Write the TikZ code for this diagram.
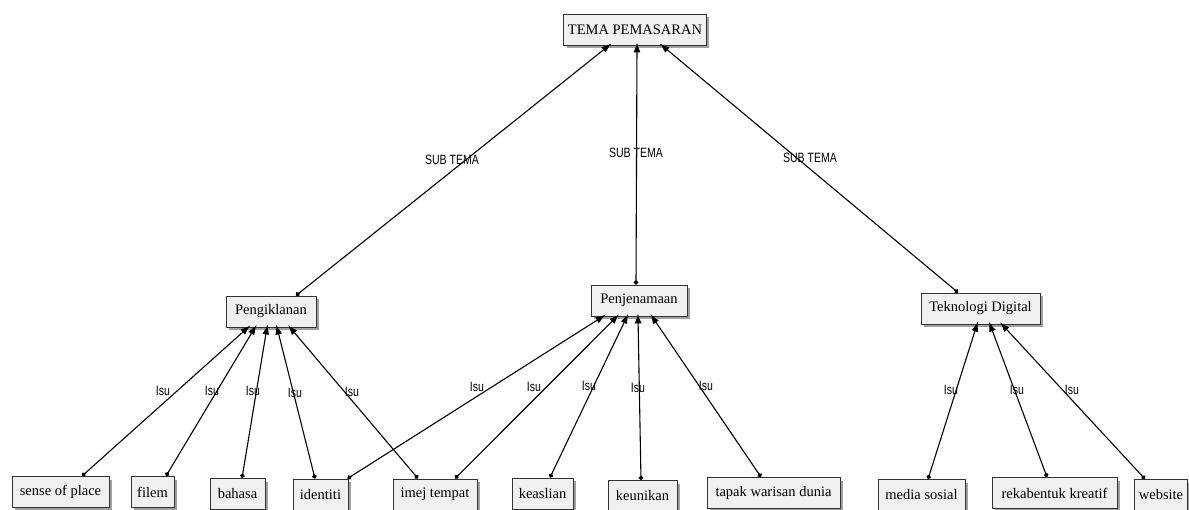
\documentclass[tikz,border=0pt]{standalone}
\usepackage{fontspec}
\setmainfont{Liberation Serif}
\newfontfamily\lblfont[FakeStretch=0.78]{Liberation Sans}
\usetikzlibrary{arrows.meta,shadows}

\begin{document}
\begin{tikzpicture}
	[x=1pt,y=-1pt,
		box/.style={rectangle,draw=black!80,line width=0.9pt,fill=black!6,minimum height=31pt,inner xsep=4pt,
			font=\fontsize{14.5}{17}\selectfont,drop shadow={shadow xshift=3pt,shadow yshift=-3pt,opacity=.75}},
		link/.style={arrows={Circle[length=4.5pt]-Latex[length=10pt,width=7pt]},line width=1.1pt,shorten >=-3pt},
		lbl/.style={font=\lblfont\fontsize{13.5}{15}\selectfont,inner sep=1pt}]

	\useasboundingbox (0,0) rectangle (1189,510);

	\node[box, minimum width=130pt]    (tema)     at (635,29.5)   {TEMA PEMASARAN};
	\node[box, minimum width=90pt]     (iklan)    at (271,311.5)  {Pengiklanan};
	\node[box, minimum width=96pt]     (jenama)   at (639,300.5)  {Penjenamaan};
	\node[box, minimum width=119pt]    (digital)  at (980.5,308.5) {Teknologi Digital};

	\node[box, minimum width=97pt]     (sense)    at (60.5,492)   {sense of place};
	\node[box, minimum width=43pt]     (filem)    at (152.5,492)  {filem};
	\node[box, minimum width=55pt]     (bahasa)   at (237.5,494)  {bahasa};
	\node[box, minimum width=55pt]     (identiti) at (320.5,494.5) {identiti};
	\node[box, minimum width=84pt]     (imej)     at (435,494.5)  {imej tempat};
	\node[box, minimum width=61pt]     (asli)     at (542.5,493.5) {keaslian};
	\node[box, minimum width=69pt]     (unik)     at (642.5,496)  {keunikan};
	\node[box, minimum width=133pt]    (tapak)    at (773.5,493)  {tapak warisan dunia};
	\node[box, minimum width=87pt]     (media)    at (921.5,495)  {media sosial};
	\node[box, minimum width=125pt]    (reka)     at (1054.5,493) {rekabentuk kreatif};
	\node[box, minimum width=52pt]     (web)      at (1161,495)   {website};

	% sub tema
	\draw[link] ([xshift=25pt]iklan.north)    -- ([xshift=-26pt]tema.south);
	\draw[link] ([xshift=-3pt]jenama.north)   -- ([xshift=2pt]tema.south);
	\draw[link] ([xshift=-22.5pt]digital.north) -- ([xshift=27pt]tema.south);

	% isu
	\draw[link] ([xshift=21.5pt]sense.north)  -- ([xshift=-23pt]iklan.south);
	\draw[link] ([xshift=13.5pt]filem.north)  -- ([xshift=-16pt]iklan.south);
	\draw[link] ([xshift=4.5pt]bahasa.north)  -- ([xshift=-4pt]iklan.south);
	\draw[link] ([xshift=-5.5pt]identiti.north) -- ([xshift=6pt]iklan.south);
	\draw[link] ([xshift=-17pt]imej.north)    -- ([xshift=19pt]iklan.south);

	\draw[link] ([xshift=27pt]identiti.north) -- ([xshift=-36pt]jenama.south);
	\draw[link] ([xshift=20pt]imej.north)     -- ([xshift=-22pt]jenama.south);
	\draw[link] ([xshift=7.5pt]asli.north)    -- ([xshift=-12pt]jenama.south);
	\draw[link] ([xshift=-1.5pt]unik.north)   -- ([xshift=-1pt]jenama.south);
	\draw[link] ([xshift=-12.5pt]tapak.north) -- ([xshift=13pt]jenama.south);

	\draw[link] ([xshift=6.5pt]media.north)   -- ([xshift=-3.5pt]digital.south);
	\draw[link] ([xshift=-7.5pt]reka.north)   -- ([xshift=9.5pt]digital.south);
	\draw[link] ([xshift=-16pt]web.north)     -- ([xshift=21.5pt]digital.south);

	% labels
	\node[lbl] (st1) at (452,160) {SUB TEMA};
	\node[lbl] (st2) at (636,153) {SUB TEMA};
	\node[lbl] (st3) at (810,158) {SUB TEMA};

	\node[lbl] (i1)  at (163,391) {Isu};
	\node[lbl] (i2)  at (212,391) {Isu};
	\node[lbl] (i3)  at (253,391) {Isu};
	\node[lbl] (i4)  at (295,393) {Isu};
	\node[lbl] (i5)  at (352,392) {Isu};
	\node[lbl] (i6)  at (477,387) {Isu};
	\node[lbl] (i7)  at (534,387) {Isu};
	\node[lbl] (i8)  at (589,386) {Isu};
	\node[lbl] (i9)  at (638,388) {Isu};
	\node[lbl] (i10) at (706,386) {Isu};
	\node[lbl] (i11) at (951,390) {Isu};
	\node[lbl] (i12) at (1017,390) {Isu};
	\node[lbl] (i13) at (1072,390) {Isu};

\end{tikzpicture}
\end{document}
